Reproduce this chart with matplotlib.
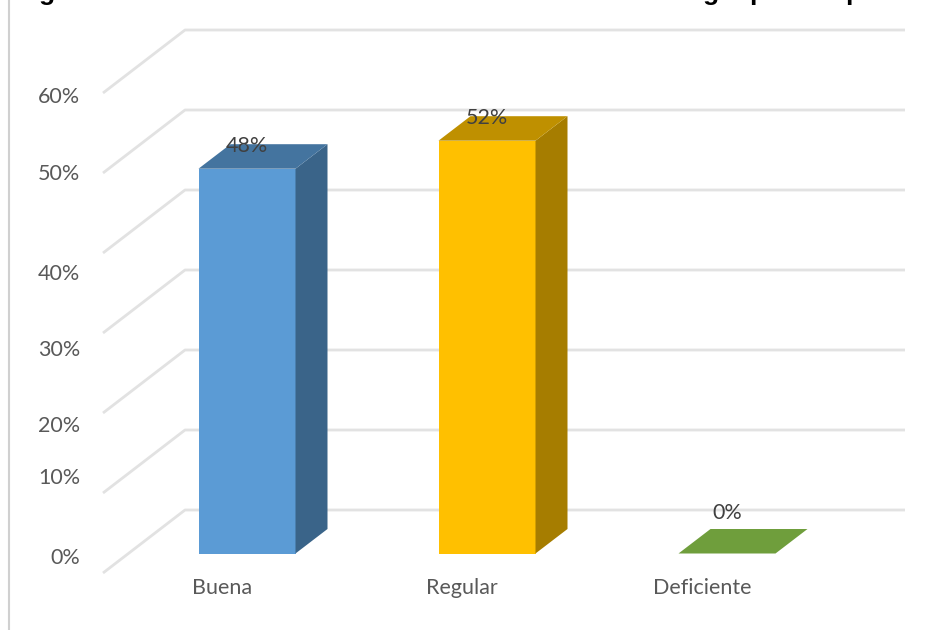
import matplotlib
matplotlib.use('Agg')
import matplotlib.pyplot as plt
from matplotlib.patches import Polygon

categorias = ['Buena', 'Regular', 'Deficiente']
valores = [48.1, 51.6, 0]
etiquetas = ['48%', '52%', '0%']
ticks = [0, 10, 20, 30, 40, 50, 60]
tick_labels = ['0%', '10%', '20%', '30%', '40%', '50%', '60%']

# the labels of the original sit unevenly, not on the grid
tick_label_y = [-0.5, 9.45, 15.95, 25.45, 35.0, 47.45, 57.1]

# the title is cut by the top edge, only these tails can be seen
titulo_letras = ['g', 'g', 'p', 'p']
titulo_px = [47, 711, 757, 853]

colores = ['#5B9BD5', '#FFC000', '#70AD47']
lados = ['#3A6489', '#A67D00', '#4F7A32']
tapas = ['#44749F', '#BF9000', '#6F9E3C']
gris = '#E2E2E2'
texto = '#595959'

plt.rcParams['font.family'] = ['Lato', 'DejaVu Sans']

fig = plt.figure(figsize=(9.36, 6.3), dpi=100)
ax = fig.add_axes([0, 0, 1, 1])
# 240 px per category, 8 px per percent, bar bottoms at y=553 px
ax.set_xlim(-247 / 240, (936 - 247) / 240)
ax.set_ylim(-(630 - 553.5) / 8, 553.5 / 8)
ax.axis('off')

ancho = 97 / 240
dx_bar, dy_bar = 32 / 240, 24.5 / 8
muro_x = (185 - 247) / 240
fin_x = (905 - 247) / 240
frente_x = (103 - 247) / 240
muro_y = 43.5 / 8
frente_y = -19.5 / 8

# back wall and side wall lines
for t in ticks:
    ax.plot([frente_x, muro_x, fin_x], [t + frente_y, t + muro_y, t + muro_y],
            color=gris, lw=2.0, solid_joinstyle='round', solid_capstyle='butt', zorder=1)

for y, lab in zip(tick_label_y, tick_labels):
    ax.text((80.5 - 247) / 240, y, lab, ha='right', va='center', fontsize=15.5, color=texto)

# bars, drawn as three faces
for i, v in enumerate(valores):
    x0 = i - ancho / 2
    x1 = i + ancho / 2
    if v > 0:
        ax.add_patch(Polygon([(x0, 0), (x1, 0), (x1, v), (x0, v)], fc=colores[i], ec='none', zorder=3))
        ax.add_patch(Polygon([(x1, 0), (x1 + dx_bar, dy_bar), (x1 + dx_bar, v + dy_bar), (x1, v)],
                             fc=lados[i], ec='none', zorder=3))
    ax.add_patch(Polygon([(x0, v), (x1, v), (x1 + dx_bar, v + dy_bar), (x0 + dx_bar, v + dy_bar)],
                         fc=tapas[i], ec='none', zorder=3))
    lab_y = v + dy_bar - 0.2 if v > 0 else 5.05
    ax.text(i, lab_y, etiquetas[i], ha='center', va='center', fontsize=15.5, color='#404040', zorder=4)
    ax.text(i - 0.105, -4.3, categorias[i], ha='center', va='center', fontsize=15.5, color=texto, zorder=4)

# left border line
ax.plot([(9.5 - 247) / 240] * 2, [-(630 - 553.5) / 8, 553.5 / 8], color='#D0D0D0', lw=1.5, zorder=1)

for letra, px in zip(titulo_letras, titulo_px):
    ax.text((px - 247) / 240, 553.5 / 8, letra, ha='center', va='baseline', fontsize=19,
            fontweight='bold', family='Liberation Sans', color='black', zorder=5)

fig.savefig('out.png', dpi=100)
